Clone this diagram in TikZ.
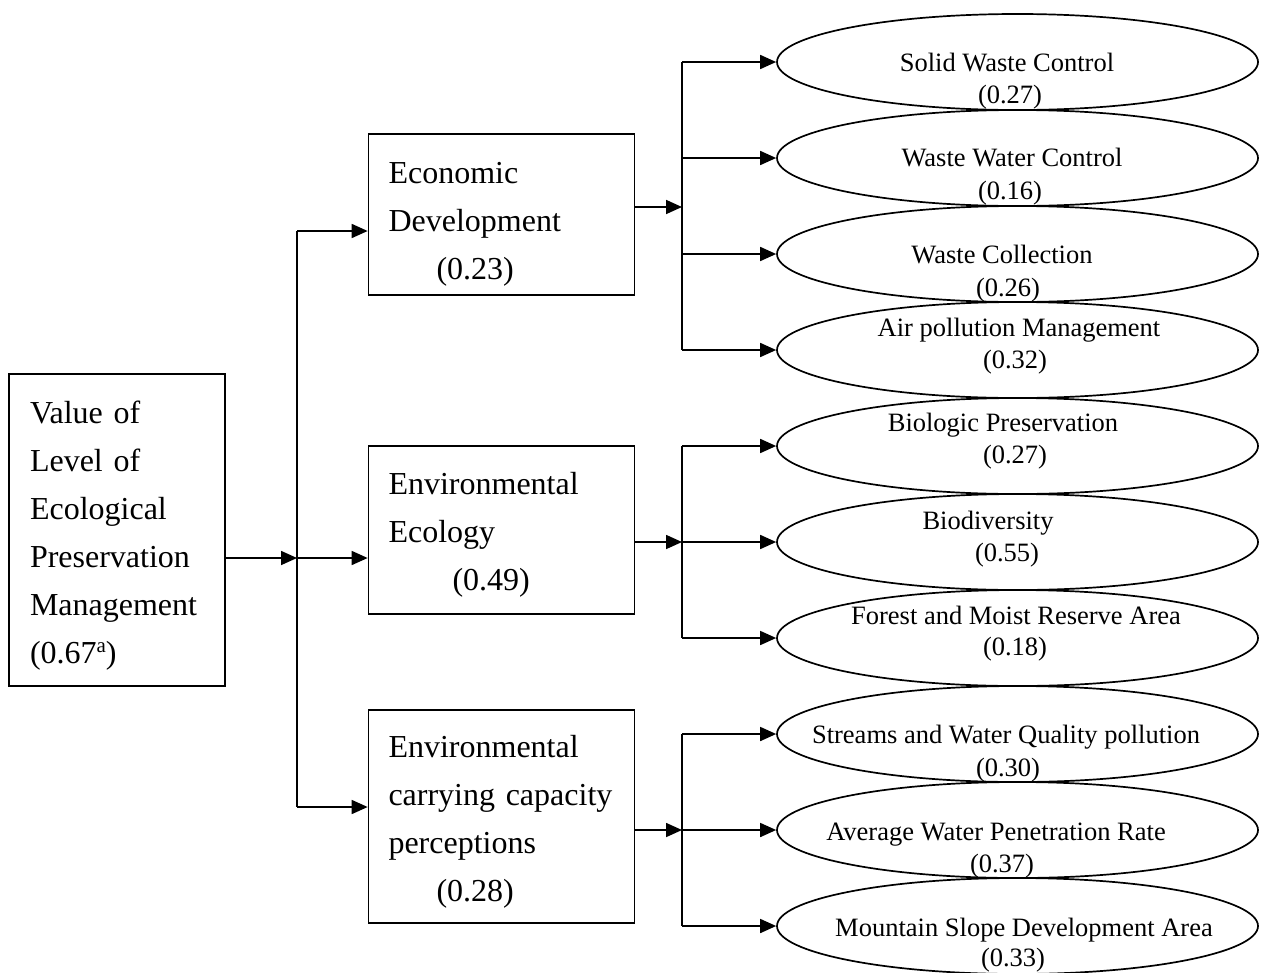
\documentclass[tikz,border=0pt]{standalone}
\usepackage{fontspec}
\setmainfont{Liberation Serif}
\usetikzlibrary{arrows.meta,shapes.geometric}
\newcommand{\topgap}[1]{\rule{0pt}{#1}}
\begin{document}
\begin{tikzpicture}[x=1pt,y=-1pt,line width=1.7pt,
  box/.style={draw, rectangle, inner xsep=20pt, inner ysep=0pt, text width=226pt, align=left,
    font=\fontsize{32}{48}\selectfont},
  rootbox/.style={box, inner xsep=21pt, text width=174pt},
  oval/.style={draw, ellipse, minimum width=481pt, minimum height=96pt, inner sep=0pt},
  etext/.style={font=\fontsize{26.5}{32}\selectfont, inner sep=0pt, text height=19pt, text depth=6pt},
  arr/.style={-{Triangle[length=16pt,width=14pt]}}]
\useasboundingbox (0,0) rectangle (1265,972);

% boxes
\node[rootbox, minimum height=312pt] (root) at (117,530)
  {\topgap{33pt}Value of\\Level of\\Ecological\\Preservation\\Management\\(0.67\raisebox{11pt}{\fontsize{21}{21}\selectfont a})};
\node[box, minimum height=161pt] (econ) at (501.5,214.5)
  {\topgap{40pt}Economic\\Development\\\hspace*{48pt}(0.23)};
\node[box, minimum height=168pt] (ecol) at (501.5,530)
  {\topgap{31pt}Environmental\\Ecology\\\hspace*{64pt}(0.49)};
\node[box, minimum height=213pt] (carry) at (501.5,816.5)
  {\topgap{33pt}Environmental\\carrying capacity\\perceptions\\\hspace*{48pt}(0.28)};

% ellipses
\node[oval] (e1) at (1017.5,62) {};
\node[oval] (e2) at (1017.5,158) {};
\node[oval] (e3) at (1017.5,254) {};
\node[oval] (e4) at (1017.5,350) {};
\node[oval] (e5) at (1017.5,446) {};
\node[oval] (e6) at (1017.5,542) {};
\node[oval] (e7) at (1017.5,638) {};
\node[oval] (e8) at (1017.5,734) {};
\node[oval] (e9) at (1017.5,830) {};
\node[oval] (e10) at (1017.5,926) {};

% ellipse texts
\node[etext] (t1a) at (1007,65) {Solid Waste Control};
\node[etext] (t1b) at (1010,97) {(0.27)};
\node[etext] (t2a) at (1012,160) {Waste Water Control};
\node[etext] (t2b) at (1010,193) {(0.16)};
\node[etext] (t3a) at (1002,257) {Waste Collection};
\node[etext] (t3b) at (1008,290) {(0.26)};
\node[etext] (t4a) at (1019,330) {Air pollution Management};
\node[etext] (t4b) at (1015,362) {(0.32)};
\node[etext] (t5a) at (1003,425) {Biologic Preservation};
\node[etext] (t5b) at (1015,457) {(0.27)};
\node[etext] (t6a) at (988,523) {Biodiversity};
\node[etext] (t6b) at (1007,555) {(0.55)};
\node[etext] (t7a) at (1016,618) {Forest and Moist Reserve Area};
\node[etext] (t7b) at (1015,649) {(0.18)};
\node[etext] (t8a) at (1006,737) {Streams and Water Quality pollution};
\node[etext] (t8b) at (1008,770) {(0.30)};
\node[etext] (t9a) at (996,834) {Average Water Penetration Rate};
\node[etext] (t9b) at (1002,866) {(0.37)};
\node[etext] (t10a) at (1024,930) {Mountain Slope Development Area};
\node[etext] (t10b) at (1013,960) {(0.33)};

% main bus
\coordinate (b1) at (297,231);
\coordinate (b2) at (297,558);
\coordinate (b3) at (297,807);
\draw (b1) -- (b3);
\draw[arr] (root.east |- b2) -- (b2);
\draw[arr] (b1) -- (econ.west |- b1);
\draw[arr] (b2) -- (ecol.west |- b2);
\draw[arr] (b3) -- (carry.west |- b3);

% sub buses
\coordinate (s1) at (682,207);
\coordinate (s2) at (682,542);
\coordinate (s3) at (682,830);
\draw[arr] (econ.east |- s1) -- (s1);
\draw[arr] (ecol.east |- s2) -- (s2);
\draw[arr] (carry.east |- s3) -- (s3);
\draw (e1.west -| s1) -- (e4.west -| s1);
\draw (e5.west -| s2) -- (e7.west -| s2);
\draw (e8.west -| s3) -- (e10.west -| s3);
\foreach \i in {1,...,4} {\draw[arr] (e\i.west -| s1) -- (e\i.west);}
\foreach \i in {5,...,7} {\draw[arr] (e\i.west -| s2) -- (e\i.west);}
\foreach \i in {8,...,10} {\draw[arr] (e\i.west -| s3) -- (e\i.west);}
\end{tikzpicture}
\end{document}
